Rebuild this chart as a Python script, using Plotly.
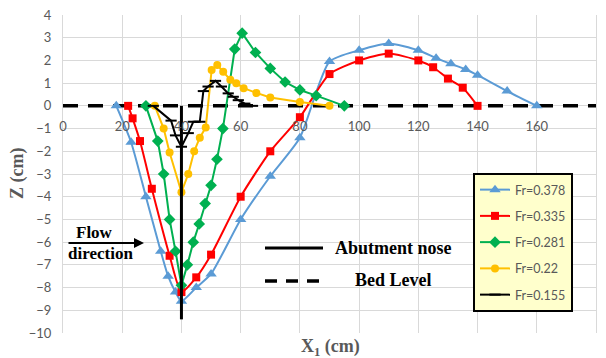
import plotly.graph_objects as go

# ---------------- data ----------------
fr378_x = [18, 23, 28, 33, 35.5, 38, 40, 45, 50, 60, 70, 80, 90, 100, 110, 120, 126, 131, 136, 140, 150, 160]
fr378_z = [0, -1.6, -4.0, -6.4, -7.5, -8.2, -8.6, -8.0, -7.4, -5.0, -3.1, -1.4, 1.95, 2.45, 2.75, 2.45, 2.1, 1.85, 1.6, 1.35, 0.65, 0]

fr335_x = [22, 23.5, 26, 30, 36, 40, 45, 50, 60, 70, 80, 90, 100, 110, 120, 125, 130, 135, 140]
fr335_z = [0, -0.55, -1.55, -3.65, -6.6, -8.2, -7.55, -6.55, -4.0, -2.0, -0.5, 1.4, 2.0, 2.3, 2.0, 1.7, 1.2, 0.8, 0]

fr281_x = [28, 32, 34, 36, 38, 40, 42, 44, 46, 48, 50, 52, 54, 58, 60.5, 65, 70, 75, 80, 85.5, 95]
fr281_z = [0, -1.55, -3.0, -5.0, -6.4, -7.9, -7.0, -6.0, -5.2, -4.3, -3.5, -2.35, -1.0, 2.5, 3.2, 2.35, 1.65, 1.05, 0.7, 0.45, 0]

fr22_x = [31, 34, 36, 40, 42.3, 44.3, 46.2, 48.2, 50.2, 52.1, 54.1, 56.5, 58.5, 61, 65.3, 70, 80, 90]
fr22_z = [0, -1.0, -2.05, -3.8, -3.0, -2.0, -1.4, -0.95, 1.58, 1.8, 1.5, 1.15, 1.0, 0.78, 0.57, 0.37, 0.17, 0]

fr155_x = [30.5, 36.5, 38, 40, 42.3, 44, 46.2, 47.4, 49, 51.5, 53.5, 55.8, 57.5, 59.2, 61.4, 64]
fr155_z = [0, -0.65, -1.3, -1.8, -1.2, -0.7, -0.7, 0.65, 0.85, 1.1, 0.85, 0.55, 0.4, 0.25, 0.1, 0]

abutment_x = [40, 40]
abutment_z = [0, -9.4]
bed_x = [0, 180]
bed_z = [0, 0]

x_ticks = [0, 20, 40, 60, 80, 100, 120, 140, 160, 180]
y_ticks = list(range(-10, 5))

series = [
    ("Fr=0.378", fr378_x, fr378_z, "#5B9BD5", "triangle-up", 10, "spline"),
    ("Fr=0.335", fr335_x, fr335_z, "#FF0000", "square", 8, "spline"),
    ("Fr=0.281", fr281_x, fr281_z, "#00B050", "diamond", 9, "linear"),
    ("Fr=0.22", fr22_x, fr22_z, "#FFC000", "circle", 8, "linear"),
    ("Fr=0.155", fr155_x, fr155_z, "#000000", "line-ew", 8, "linear"),
]

fig = go.Figure()

# bed level (dashed)
fig.add_trace(go.Scatter(x=bed_x, y=bed_z, mode="lines", showlegend=False,
                         line=dict(color="black", width=3.5, dash="15px,10px"), hoverinfo="skip"))

for i, (name, xs, zs, col, sym, size, shape) in enumerate(series):
    marker = dict(symbol=sym, size=size, color=col)
    if sym == "line-ew":
        marker["line"] = dict(color=col, width=2)
    fig.add_trace(go.Scatter(
        x=xs, y=zs, name=name, mode="lines+markers",
        line=dict(color=col, width=2, shape=shape, smoothing=0.6 if shape == "spline" else None),
        marker=marker, legendgroup=f"g{i}"))

# abutment nose
fig.add_trace(go.Scatter(x=abutment_x, y=abutment_z, mode="lines", showlegend=False,
                         line=dict(color="black", width=3), hoverinfo="skip"))

W, H = 606, 358
L, R, T, B = 63, 10, 15, 25
pw, ph = W - L - R, H - T - B

def px(xp):
    return (xp - L) / pw

def py(yp):
    return (H - B - yp) / ph

serif = "Liberation Serif"

annotations = [
    dict(text="<b>Abutment nose</b>", x=px(333), y=py(248), xref="paper", yref="paper",
         xanchor="left", yanchor="middle", showarrow=False, font=dict(family=serif, size=18, color="black")),
    dict(text="<b>Bed Level</b>", x=px(353), y=py(280), xref="paper", yref="paper",
         xanchor="left", yanchor="middle", showarrow=False, font=dict(family=serif, size=18, color="black")),
    dict(text="<b>Flow</b>", x=px(74), y=py(232), xref="paper", yref="paper",
         xanchor="left", yanchor="middle", showarrow=False, font=dict(family=serif, size=17, color="black")),
    dict(text="<b>direction</b>", x=px(66), y=py(253), xref="paper", yref="paper",
         xanchor="left", yanchor="middle", showarrow=False, font=dict(family=serif, size=17, color="black")),
    dict(text="", x=px(144), y=py(243), xref="paper", yref="paper", ax=-77, ay=0,
         showarrow=True, arrowhead=2, arrowsize=1, arrowwidth=2, arrowcolor="black"),
    dict(text="<b>X<sub>1</sub> (cm)</b>", x=px(330), y=py(347), xref="paper", yref="paper",
         xanchor="center", yanchor="middle", showarrow=False, font=dict(family=serif, size=18, color="#595959")),
    dict(text="<b>Z (cm)</b>", x=px(17), y=py(174), xref="paper", yref="paper", textangle=-90,
         xanchor="center", yanchor="middle", showarrow=False, font=dict(family=serif, size=18, color="#595959")),
]

shapes = [
    dict(type="line", xref="paper", yref="paper", x0=px(265), x1=px(323), y0=py(248), y1=py(248),
         line=dict(color="black", width=3)),
    dict(type="line", xref="paper", yref="paper", x0=px(265), x1=px(326), y0=py(281), y1=py(281),
         line=dict(color="black", width=3.5, dash="12px,9px")),
]

fig.update_layout(
    width=W, height=H,
    margin=dict(l=L, r=R, t=T, b=B, autoexpand=False),
    paper_bgcolor="white", plot_bgcolor="white",
    font=dict(family="Lato", size=13, color="#595959"),
    showlegend=True,
    legend=dict(x=px(473), y=py(173), xanchor="left", yanchor="top",
                bgcolor="#FFFFCC", bordercolor="black", borderwidth=2,
                font=dict(family="Lato", size=12.5, color="#595959"),
                traceorder="grouped", tracegroupgap=7, itemwidth=30),
    annotations=annotations,
    shapes=shapes,
    xaxis=dict(range=[0, 180], tickvals=x_ticks, showgrid=True, gridcolor="#D9D9D9", gridwidth=1,
               zeroline=False, showline=False, anchor="free", position=10 / 14, automargin=False,
               ticks="", ticklabelstandoff=11, tickfont=dict(family="Lato", size=13, color="#595959")),
    yaxis=dict(range=[-10, 4], tickvals=y_ticks, showgrid=True, gridcolor="#D9D9D9", gridwidth=1,
               zeroline=False, showline=True, linecolor="#D9D9D9", mirror=True, automargin=False,
               ticks="", ticklabelstandoff=8, tickfont=dict(family="Lato", size=13, color="#595959")),
)

fig.write_html("out.html", config={"displayModeBar": False},
               post_script="document.body.style.margin='0';document.body.style.overflow='hidden';")
